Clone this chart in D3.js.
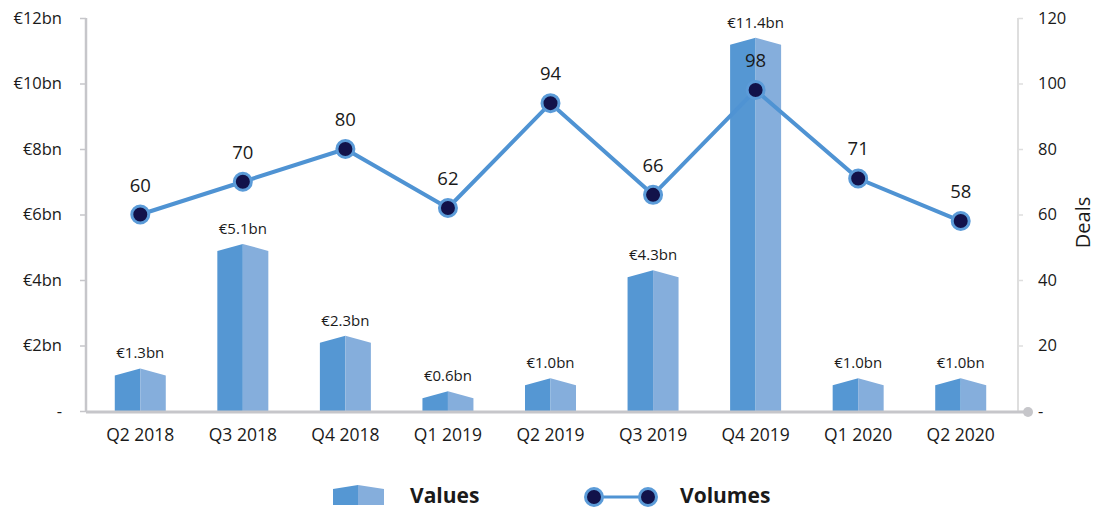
<!DOCTYPE html>
<html>
<head>
<meta charset="utf-8">
<script src="https://cdn.jsdelivr.net/npm/d3@7"></script>
<style>
  body { margin: 0; background: #fff; }
  text { font-family: "Open Sans", "Noto Sans", sans-serif; fill: #1a1a1a; }
</style>
</head>
<body>
<script>
// chart data
const quarters = ['Q2 2018', 'Q3 2018', 'Q4 2018', 'Q1 2019', 'Q2 2019', 'Q3 2019', 'Q4 2019', 'Q1 2020', 'Q2 2020'];
const values = [1.3, 5.1, 2.3, 0.6, 1.0, 4.3, 11.4, 1.0, 1.0];   // € bn
const volumes = [60, 70, 80, 62, 94, 66, 98, 71, 58];           // deals
const leftTicks = [0, 2, 4, 6, 8, 10, 12];
const rightTicks = [0, 20, 40, 60, 80, 100, 120];

const width = 1098, height = 508;
const plot = {top: 18, bottom: 411, left: 86, right: 1018};

const svg = d3.select('body').append('svg')
    .attr('width', width)
    .attr('height', height);

let x = d3.scaleBand().domain(quarters).range([89, 1012]);
let yL = d3.scaleLinear().domain([0, 12]).range([plot.bottom, plot.top]);
let yR = d3.scaleLinear().domain([0, 120]).range([plot.bottom, plot.top]);

const darkBlue = '#5597d3', lightBlue = '#85aedc';
const barW = 51, peak = 7;

// left axis
let gl = svg.append('g').attr('transform', `translate(${plot.left},0)`)
    .call(d3.axisLeft(yL).tickValues(leftTicks).tickSize(6).tickPadding(18)
        .tickFormat(d => d === 0 ? '-' : '€' + d + 'bn'));
gl.select('.domain').attr('stroke', '#c6c6ca').attr('stroke-width', 2.5).attr('d', `M0,${plot.top}V${plot.bottom}`);
gl.selectAll('.tick line').attr('stroke', '#c6c6ca').attr('stroke-width', 1.5);
gl.selectAll('.tick text').style('font-size', '16.5px').attr('fill', '#1a1a1a');

// right axis
let gr = svg.append('g').attr('transform', `translate(${plot.right},0)`)
    .call(d3.axisRight(yR).tickValues(rightTicks).tickSize(5).tickPadding(15)
        .tickFormat(d => d === 0 ? '-' : d));
gr.select('.domain').attr('stroke', '#dedede').attr('stroke-width', 2).attr('d', `M0,${plot.top}V${plot.bottom}`);
gr.selectAll('.tick line').attr('stroke', '#dedede').attr('stroke-width', 1.5);
gr.selectAll('.tick text').style('font-size', '16.5px').attr('fill', '#1a1a1a');

svg.append('text')
    .attr('transform', `translate(1090,${(plot.top + plot.bottom) / 2 + 8}) rotate(-90)`)
    .attr('text-anchor', 'middle')
    .style('font-size', '20px')
    .text('Deals');

// bars: two halves with a peaked top
let bars = svg.append('g').selectAll('g').data(quarters).enter().append('g');
bars.append('path')
    .attr('fill', darkBlue)
    .attr('d', (d, i) => {
        let cx = x(d) + x.bandwidth() / 2, yv = yL(values[i]);
        return `M${cx - barW / 2},${plot.bottom}V${yv + peak}L${cx},${yv}V${plot.bottom}Z`;
    });
bars.append('path')
    .attr('fill', lightBlue)
    .attr('d', (d, i) => {
        let cx = x(d) + x.bandwidth() / 2, yv = yL(values[i]);
        return `M${cx},${plot.bottom}V${yv}L${cx + barW / 2},${yv + peak}V${plot.bottom}Z`;
    });
bars.append('text')
    .attr('x', d => x(d) + x.bandwidth() / 2)
    .attr('y', (d, i) => yL(values[i]) - 10)
    .attr('text-anchor', 'middle')
    .style('font-size', '15px')
    .text((d, i) => '€' + values[i].toFixed(1) + 'bn');

// bottom axis
svg.append('line')
    .attr('x1', plot.left).attr('x2', 1028)
    .attr('y1', plot.bottom + 1).attr('y2', plot.bottom + 1)
    .attr('stroke', '#c6c6ca').attr('stroke-width', 3);
svg.append('circle').attr('cx', 1028).attr('cy', plot.bottom + 1).attr('r', 5).attr('fill', '#c6c6ca');

svg.append('g').selectAll('text').data(quarters).enter().append('text')
    .attr('x', d => x(d) + x.bandwidth() / 2)
    .attr('y', 441)
    .attr('text-anchor', 'middle')
    .style('font-size', '17.5px')
    .text(d => d);

// volumes line
let line = d3.line()
    .x((d, i) => x(quarters[i]) + x.bandwidth() / 2)
    .y(d => yR(d));
svg.append('path')
    .datum(volumes)
    .attr('d', line)
    .attr('fill', 'none')
    .attr('stroke', '#4f93d3')
    .attr('stroke-width', 4);

svg.append('g').selectAll('circle').data(volumes).enter().append('circle')
    .attr('cx', (d, i) => x(quarters[i]) + x.bandwidth() / 2)
    .attr('cy', d => yR(d))
    .attr('r', 8.5)
    .attr('fill', '#12124a')
    .attr('stroke', '#5b9bd8')
    .attr('stroke-width', 3);

svg.append('g').selectAll('text').data(volumes).enter().append('text')
    .attr('x', (d, i) => x(quarters[i]) + x.bandwidth() / 2)
    .attr('y', d => yR(d) - 23)
    .attr('text-anchor', 'middle')
    .style('font-size', '18.5px')
    .text(d => d);

// legend
let lg = svg.append('g');
lg.append('path').attr('fill', darkBlue).attr('d', 'M333,505V489L358,485V505Z');
lg.append('path').attr('fill', lightBlue).attr('d', 'M358,505V485L384,489V505Z');
lg.append('text').attr('x', 410).attr('y', 503)
    .style('font-size', '21px').style('font-weight', 'bold').text('Values');

lg.append('line').attr('x1', 594).attr('x2', 648).attr('y1', 497).attr('y2', 497)
    .attr('stroke', '#4f93d3').attr('stroke-width', 3);
[594, 648].forEach(cx => {
    lg.append('circle').attr('cx', cx).attr('cy', 497).attr('r', 8.5)
        .attr('fill', '#12124a').attr('stroke', '#5b9bd8').attr('stroke-width', 3);
});
lg.append('text').attr('x', 680).attr('y', 503)
    .style('font-size', '21px').style('font-weight', 'bold').text('Volumes');
</script>
</body>
</html>
